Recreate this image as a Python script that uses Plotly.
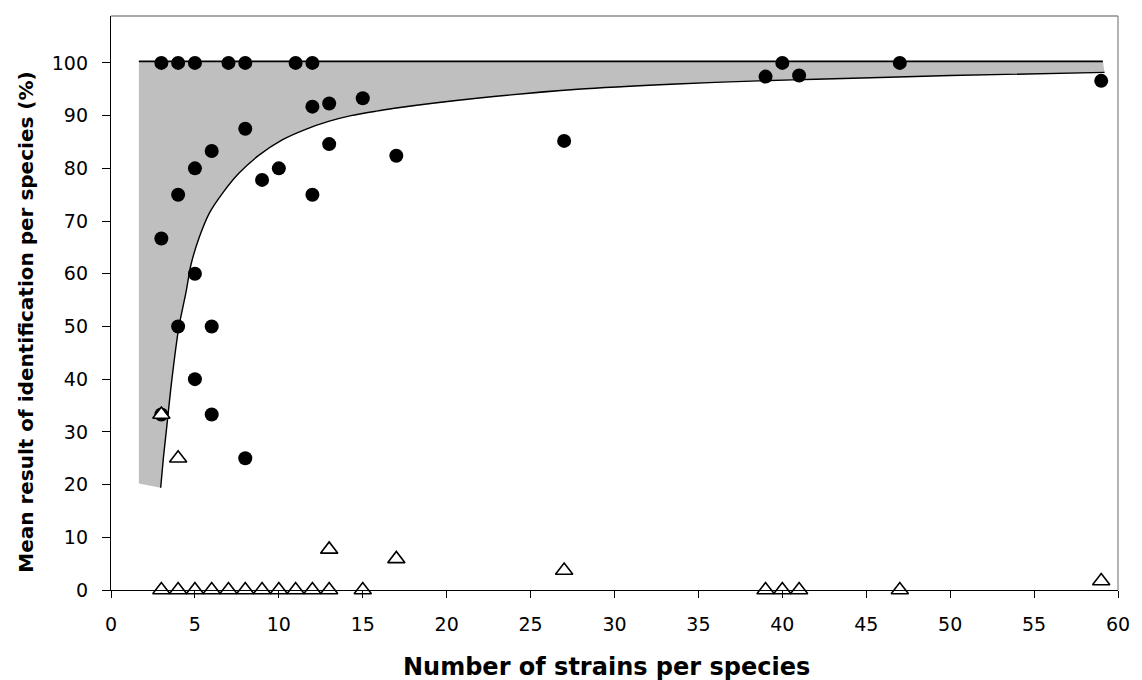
import plotly.graph_objects as go

# Filled circles: correct identification (%)
circle_x = [3, 4, 5, 7, 8, 11, 12, 12, 13, 15, 8, 6, 5, 4, 9, 10, 12, 13, 17, 3,
            5, 4, 6, 5, 6, 3, 8, 27, 39, 40, 41, 47, 59]
circle_y = [100, 100, 100, 100, 100, 100, 100, 91.7, 92.3, 93.3, 87.5, 83.3, 80, 75, 77.8, 80, 75, 84.6, 82.4, 66.7,
            60, 50, 50, 40, 33.3, 33.3, 25, 85.2, 97.4, 100, 97.6, 100, 96.6]

# Open triangles: misidentification (%)
tri_x = [3, 4, 5, 6, 7, 8, 9, 10, 11, 12, 13, 15, 39, 40, 41, 47, 3, 4, 13, 17, 27, 59]
tri_y = [0, 0, 0, 0, 0, 0, 0, 0, 0, 0, 0, 0, 0, 0, 0, 0, 33.3, 25, 7.7, 5.9, 3.7, 1.7]

# Lower envelope curve
curve_x = [2.96, 3.12, 3.29, 3.63, 4.05, 4.47, 4.77, 5.27, 5.86, 6.65, 7.63, 8.82, 10.2, 11.6, 12.96,
           14.3, 15.9, 17.1, 21.8, 27.8, 33.7, 38.6, 42.0, 50.0, 59.2]
curve_y = [19.4, 25, 30, 40, 50, 56.5, 61.8, 67.0, 71.5, 75.3, 79.1, 82.5, 85.4, 87.4, 88.9,
           90.0, 90.9, 91.5, 93.3, 95.0, 96.0, 96.6, 96.9, 97.6, 98.2]

# Upper envelope line
top_x = [1.66, 59.1]
top_y = [100.3, 100.3]
band_left_bottom = 20.2

x_ticks = list(range(0, 61, 5))
y_ticks = list(range(0, 101, 10))

fig = go.Figure()

poly_x = top_x + curve_x[::-1] + [top_x[0]]
poly_y = top_y + curve_y[::-1] + [band_left_bottom]
fig.add_trace(go.Scatter(x=poly_x, y=poly_y, mode="lines", fill="toself",
                         fillcolor="#bfbfbf", line=dict(width=0, color="rgba(0,0,0,0)"),
                         hoverinfo="skip", showlegend=False))
fig.add_trace(go.Scatter(x=top_x, y=top_y, mode="lines", line=dict(color="black", width=1.6),
                         showlegend=False))
fig.add_trace(go.Scatter(x=curve_x, y=curve_y, mode="lines",
                         line=dict(color="black", width=1.4, shape="spline", smoothing=0.8),
                         showlegend=False))
fig.add_trace(go.Scatter(x=circle_x, y=circle_y, mode="markers",
                         marker=dict(symbol="circle", size=14, color="black", line=dict(width=0)),
                         cliponaxis=False, showlegend=False))
fig.add_trace(go.Scatter(x=tri_x, y=tri_y, mode="markers",
                         marker=dict(symbol="triangle-up", size=15, color="white", line=dict(color="black", width=1.6)),
                         cliponaxis=False, showlegend=False))

L, R, T, B = 111, 1142 - 1127, 16, 680 - 590
fig.update_layout(
    width=1142, height=680,
    margin=dict(l=L, r=R, t=T, b=B, pad=0),
    paper_bgcolor="white", plot_bgcolor="white",
    font=dict(family="DejaVu Sans", size=19, color="black"),
    showlegend=False,
    xaxis=dict(range=[0, 60], tickvals=x_ticks, ticktext=[str(v) for v in x_ticks],
               showgrid=False, zeroline=False, showline=True, linecolor="black", linewidth=1.3,
               ticks="outside", ticklen=7, tickwidth=1.3, tickcolor="black",
               ticklabelstandoff=10, mirror=False),
    yaxis=dict(range=[0, 108.9], tickvals=y_ticks, ticktext=[str(v) for v in y_ticks],
               showgrid=False, zeroline=False, showline=True, linecolor="black", linewidth=1.3,
               ticks="outside", ticklen=8, tickwidth=1.3, tickcolor="black",
               ticklabelstandoff=10),
    shapes=[
        dict(type="line", xref="paper", yref="paper", x0=0, x1=1, y0=1, y1=1,
             line=dict(color="#8c8c8c", width=1.3)),
        dict(type="line", xref="paper", yref="paper", x0=1, x1=1, y0=0, y1=1,
             line=dict(color="#8c8c8c", width=1.3)),
    ],
    annotations=[
        dict(text="<b>Number of strains per species</b>", xref="paper", yref="paper",
             x=(611 - 111) / 1016, y=-(667 - 590) / 574, xanchor="center", yanchor="middle",
             showarrow=False, font=dict(family="DejaVu Sans", size=24, color="black")),
        dict(text="<b>Mean result of identification per species (%)</b>", xref="paper", yref="paper",
             x=(25 - 111) / 1016, y=(590 - 322) / 574, xanchor="center", yanchor="middle",
             textangle=-90, showarrow=False, font=dict(family="DejaVu Sans", size=20, color="black")),
    ],
)

fig.write_html("out.html")
